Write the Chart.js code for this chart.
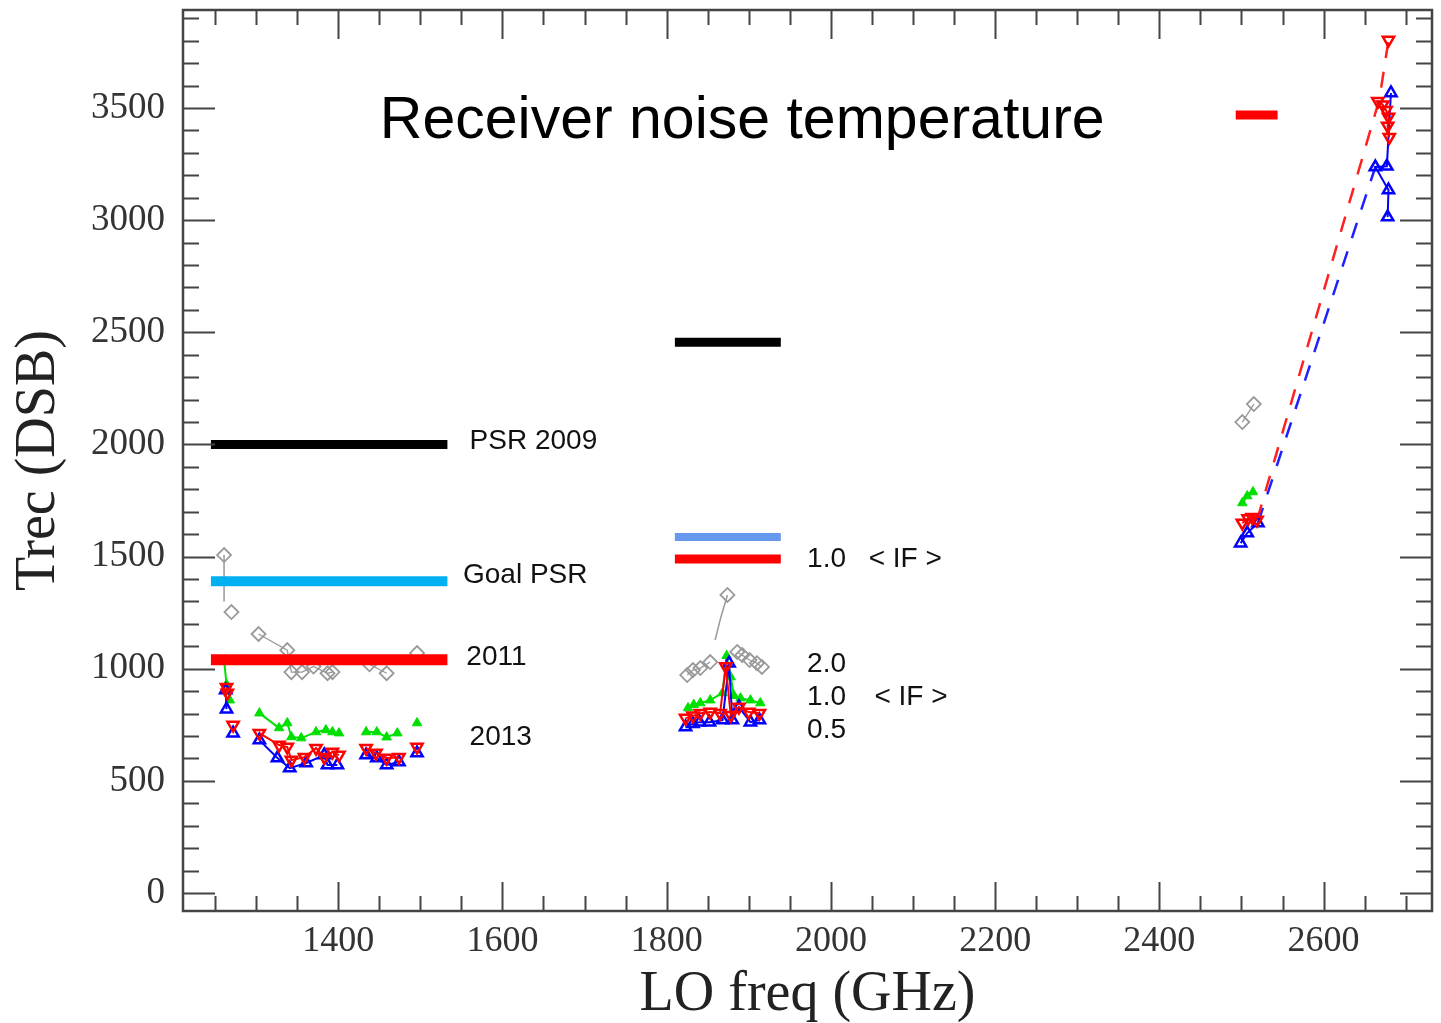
<!DOCTYPE html>
<html>
<head>
<meta charset="utf-8">
<script src="https://cdn.jsdelivr.net/npm/chart.js@4.4.0/dist/chart.umd.min.js"></script>
<style>
  html, body { margin: 0; padding: 0; background: #fff; }
</style>
</head>
<body>
<canvas id="chart" width="1441" height="1023"></canvas>
<script>
// Axis ticks
const xTicks = [1400, 1600, 1800, 2000, 2200, 2400, 2600];
const yTicks = [0, 500, 1000, 1500, 2000, 2500, 3000, 3500];

// Measured Trec points [LO GHz, K], null = break in line
const grayPts = [[1261,1507],null,[1270,1253],null,[1303,1155],[1338,1083],[1343,985],[1356,985],[1370,1010],[1387,980],[1393,985],null,[1438,1020],[1459,980],null,[1496,1070],
  null,[1874,1329],null,[1825,972],[1832,994],[1841,1003],[1853,1030],null,[1886,1075],[1892,1061],[1901,1039],[1910,1025],[1916,1008],
  null,[2501,2100],[2515,2180]];
const grayStems = [[1261,1507],[1261,1300],null,[1874,1329],[1866,1230],[1859,1128]];

const greenPts = [[1261,1040],[1264,930],[1268,860],null,[1304,802],[1328,736],[1338,758],[1343,696],[1355,691],[1373,718],[1385,727],[1393,718],[1401,713],null,[1434,718],[1447,718],[1459,695],[1472,713],null,[1496,758],
  null,[1826,825],[1833,840],[1841,847],[1853,860],[1868,892],[1873,1058],[1878,963],[1882,880],[1890,869],[1902,860],[1914,847],
  null,[2501,1739],[2507,1770],[2514,1788]];

const redPts = [[1264,918],[1265,892],null,[1272,749],null,[1304,713],[1328,660],[1338,651],[1343,593],[1359,606],[1373,646],[1383,606],[1393,629],[1401,615],null,[1434,646],[1446,624],[1459,602],[1474,606],null,[1496,651],
  null,[1823,780],[1832,790],[1841,802],[1853,807],[1865,802],[1872,1010],[1878,793],[1888,829],[1900,807],[1913,802],
  null,[2501,1650],[2508,1670],[2513,1676],[2519,1663],
  null,[2666,3530],[2672,3515],[2676,3490],[2679,3460],[2678,3420],[2680,3370]];

const bluePts = [[1263,905],[1264,820],null,[1272,713],null,[1304,682],[1326,602],[1341,557],[1361,580],[1383,615],[1387,571],[1399,571],null,[1434,615],[1447,602],[1459,571],[1474,584],null,[1496,624],
  null,[1823,740],[1832,755],[1840,762],[1852,762],[1868,771],[1876,1025],[1880,771],[1888,829],[1902,762],[1913,771],
  null,[2499,1560],[2507,1605],[2520,1650],
  null,[2682,3567],[2677,3240],[2663,3237],[2679,3134],[2678,3014]];

const redDash = [[2519,1663],[2668,3540],[2679,3803]];
const blueDash = [[2520,1650],[2663,3237]];

// Reference levels
const barPsr2009 = [[1245,2000],[1533,2000]];
const barGoal = [[1245,1390],[1533,1390]];
const bar2011 = [[1245,1040],[1533,1040]];
const barMidBlack = [[1810,2456],[1939,2456]];
const barMidBlue = [[1810,1587],[1939,1587]];
const barMidRed = [[1810,1489],[1939,1489]];
const barTopRed = [[2493,3469],[2544,3469]];

// Text notes [text, x, y] (baseline, data units)
const notes = [
  ['PSR 2009', 1560, 1979],
  ['Goal PSR', 1552, 1382],
  ['2011', 1556, 1016],
  ['2013', 1560, 660],
  ['1.0', 1971, 1453], ['< IF >', 2046, 1453],
  ['2.0', 1971, 985],
  ['1.0', 1971, 838], ['< IF >', 2053, 838],
  ['0.5', 1971, 691]
];

function toXY(arr) {
  let lastX = 0;
  return arr.map(p => {
    if (!p) return { x: lastX, y: null };
    lastX = p[0];
    return { x: p[0], y: p[1] };
  });
}

function bar(arr, color, w) {
  return { data: toXY(arr), borderColor: color, borderWidth: w, pointRadius: 0, borderCapStyle: 'butt', fill: false };
}

const serif = '"Liberation Serif", "DejaVu Serif", serif';
const sans = '"Liberation Sans", Arial, sans-serif';

const frame = {
  id: 'frame',
  afterDatasetsDraw(chart) {
    const { ctx, chartArea: a, scales: { x, y } } = chart;
    ctx.save();
    ctx.strokeStyle = '#444';
    ctx.lineWidth = 2;
    ctx.beginPath();
    for (let v = 1250; v <= 2700; v += 50) {
      const px = Math.round(x.getPixelForValue(v)) + 0.5;
      const len = v % 200 === 0 ? 29 : 15;
      ctx.moveTo(px, a.bottom); ctx.lineTo(px, a.bottom - len);
      ctx.moveTo(px, a.top); ctx.lineTo(px, a.top + len);
    }
    for (let v = 0; v <= 3900; v += 100) {
      const py = Math.round(y.getPixelForValue(v)) + 0.5;
      const len = v % 500 === 0 ? 32 : 16;
      ctx.moveTo(a.left, py); ctx.lineTo(a.left + len, py);
      ctx.moveTo(a.right, py); ctx.lineTo(a.right - len, py);
    }
    ctx.stroke();
    ctx.lineWidth = 2.5;
    ctx.strokeRect(a.left, a.top, a.right - a.left, a.bottom - a.top);

    // notes
    ctx.fillStyle = '#111';
    ctx.font = '28px ' + sans;
    ctx.textBaseline = 'alphabetic';
    ctx.textAlign = 'left';
    notes.forEach(([t, vx, vy]) => ctx.fillText(t, x.getPixelForValue(vx), y.getPixelForValue(vy)));

    // title inside plot
    ctx.fillStyle = '#000';
    ctx.font = '59px ' + sans;
    ctx.textAlign = 'center';
    ctx.fillText('Receiver noise temperature', x.getPixelForValue(1892), y.getPixelForValue(3366));

    // axis titles
    ctx.fillStyle = '#222';
    ctx.font = '56px ' + serif;
    ctx.fillText('LO freq (GHz)', (a.left + a.right) / 2, 1010);
    ctx.translate(54, (a.top + a.bottom) / 2);
    ctx.rotate(-Math.PI / 2);
    ctx.fillText('Trec (DSB)', 0, 0);
    ctx.restore();
  }
};

new Chart(document.getElementById('chart'), {
  type: 'line',
  data: {
    datasets: [
      bar(barPsr2009, '#000000', 9),
      bar(barGoal, '#00b0f0', 10),
      bar(bar2011, '#ff0000', 11),
      bar(barMidBlack, '#000000', 9),
      bar(barMidBlue, '#6699ee', 8),
      bar(barMidRed, '#ff0000', 9),
      bar(barTopRed, '#ff0000', 9),
      {
        data: toXY(redPts), borderColor: '#ff0000', borderWidth: 2,
        pointStyle: 'triangle', rotation: 180, pointRadius: 6.5, pointBorderWidth: 2.5,
        pointBorderColor: '#ff0000', pointBackgroundColor: 'rgba(255,255,255,0)'
      },
      {
        data: toXY(bluePts), borderColor: '#0000ff', borderWidth: 2,
        pointStyle: 'triangle', pointRadius: 6.5, pointBorderWidth: 2.5,
        pointBorderColor: '#0000ff', pointBackgroundColor: 'rgba(255,255,255,0)'
      },
      {
        data: toXY(greenPts), borderColor: '#00e000', borderWidth: 2,
        pointStyle: 'triangle', pointRadius: 5.5, pointBorderWidth: 1,
        pointBorderColor: '#00e000', pointBackgroundColor: '#00e000'
      },
      {
        data: toXY(redDash), borderColor: '#ff2020', borderWidth: 2.5, borderDash: [16, 14],
        pointStyle: 'triangle', rotation: 180, pointRadius: [0, 0, 6.5], pointBorderWidth: 2.5,
        pointBorderColor: '#ff0000', pointBackgroundColor: 'rgba(255,255,255,0)'
      },
      {
        data: toXY(blueDash), borderColor: '#2020ff', borderWidth: 2.5, borderDash: [16, 14], pointRadius: 0
      },
      {
        data: toXY(grayPts), borderColor: '#999', borderWidth: 1.3,
        pointStyle: 'rectRot', pointRadius: 7, pointBorderWidth: 1.8,
        pointBorderColor: '#999', pointBackgroundColor: 'rgba(255,255,255,0)'
      },
      { data: toXY(grayStems), borderColor: '#999', borderWidth: 1.5, pointRadius: 0 }
    ]
  },
  options: {
    responsive: false,
    animation: false,
    spanGaps: false,
    layout: { padding: { left: 0, top: 10, right: 0, bottom: 0 } },
    plugins: { legend: { display: false }, tooltip: { enabled: false }, title: { display: false } },
    scales: {
      x: {
        type: 'linear', min: 1211, max: 2732,
        afterBuildTicks: s => { s.ticks = xTicks.map(v => ({ value: v })); },
        afterFit: s => { s.height = 112; s.paddingLeft = 0; s.paddingRight = 0; },
        grid: { display: false, drawTicks: false },
        border: { display: false },
        ticks: { padding: 9, color: '#333', font: { family: serif, size: 36 }, maxRotation: 0, autoSkip: false, callback: v => String(v) }
      },
      y: {
        type: 'linear', min: -80, max: 3937,
        afterBuildTicks: s => { s.ticks = yTicks.map(v => ({ value: v })); },
        afterFit: s => { s.width = 183; s.paddingTop = 0; s.paddingBottom = 0; },
        grid: { display: false, drawTicks: false },
        border: { display: false },
        ticks: { padding: 18, color: '#333', font: { family: serif, size: 37 }, autoSkip: false, callback: v => String(v) }
      }
    }
  },
  plugins: [frame]
});
</script>
</body>
</html>
